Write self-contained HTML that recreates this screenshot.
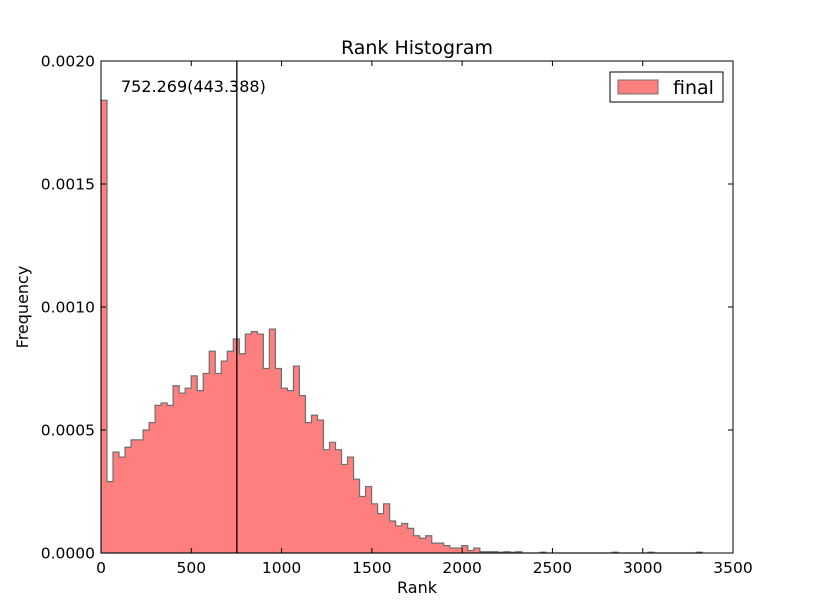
<!DOCTYPE html>
<html><head><meta charset="utf-8"><style>
body{margin:0;background:#fff;}
svg{display:block;font-family:"DejaVu Sans","Liberation Sans",sans-serif;}
</style></head><body>
<svg id="chart" width="815" height="615">
<rect width="815" height="615" fill="#fff"/>
<g id="bars"></g>
<g id="axes"></g>
</svg>
<script>
const binWidth = 33.3;
const freqs = [0.00184,0.00029,0.00041,0.00039,0.00043,0.00046,0.00046,0.0005,0.00053,0.0006,0.00061,0.0006,0.00068,0.00065,0.00067,0.00072,0.00066,0.00073,0.00082,0.00073,0.00078,0.00082,0.00087,0.00081,0.00089,0.0009,0.00089,0.00075,0.00091,0.00075,0.00067,0.00066,0.00076,0.00064,0.00053,0.00056,0.00054,0.00042,0.00045,0.00042,0.00036,0.00039,0.0003,0.00023,0.00027,0.0002,0.00016,0.0002,0.00013,0.00011,0.00012,0.0001,0.00007,0.00006,0.00007,0.00004,0.00004,0.00003,0.00002,0.00002,0.00003,0.00001,0.00002,0.000005,0.000005,0.000005,0.000003,0.000005,0.000003,0.000005,0,0,0,0.000003,0,0,0,0,0,0,0,0,0,0,0,0.000003,0,0,0,0,0,0.000003,0,0,0,0,0,0,0,0.000003];
const xTicks = [0,500,1000,1500,2000,2500,3000,3500];
const yTicks = [0,0.0005,0.001,0.0015,0.002];
const yTickLabels = ["0.0000","0.0005","0.0010","0.0015","0.0020"];
const meanValue = 752.269;
const meanLabel = "752.269(443.388)";

const L=101,R=733,T=61,B=553;
const xs=v=>L+(v/3500)*(R-L);
const ys=v=>B-(v/0.002)*(B-T);
const NS="http://www.w3.org/2000/svg";
function mk(tag,attrs,parent,text){const e=document.createElementNS(NS,tag);for(const k in attrs)e.setAttribute(k,attrs[k]);if(text!==undefined)e.textContent=text;parent.appendChild(e);return e;}

const bars=document.getElementById('bars');
let d="M"+xs(0)+","+ys(0);
freqs.forEach((f,i)=>{
  const x0=xs(i*binWidth),x1=xs((i+1)*binWidth);
  d+=" L"+x0+","+ys(f)+" L"+x1+","+ys(f);
});
d+=" L"+xs(freqs.length*binWidth)+","+ys(0)+" Z";
const p=mk('path',{d:d,fill:'#ff7f7f',stroke:'#6e6e6e','stroke-width':1.2},bars);


freqs.forEach((f,i)=>{
  const r=mk('rect',{x:xs(i*binWidth),y:ys(f),width:xs(binWidth)-xs(0),height:ys(0)-ys(f),fill:'none',stroke:'none'},bars);
  
  
});

const ax=document.getElementById('axes');
const ml=mk('line',{x1:xs(meanValue),x2:xs(meanValue),y1:T,y2:B,stroke:'#000','stroke-width':1.3},ax);


const mt=mk('text',{x:121,y:92,'font-size':16},ax,meanLabel);



mk('rect',{x:L,y:T,width:R-L,height:B-T,fill:'none',stroke:'#000','stroke-width':1},ax);
xTicks.forEach(v=>{
  const x=xs(v);
  mk('line',{x1:x,x2:x,y1:B,y2:B-5,stroke:'#000'},ax);
  mk('line',{x1:x,x2:x,y1:T,y2:T+5,stroke:'#000'},ax);
  const t=mk('text',{x:x,y:B+20,'font-size':15.5,'text-anchor':'middle'},ax,String(v));
  
  
});
yTicks.forEach((v,i)=>{
  const y=ys(v);
  mk('line',{x1:L,x2:L+5,y1:y,y2:y,stroke:'#000'},ax);
  mk('line',{x1:R,x2:R-5,y1:y,y2:y,stroke:'#000'},ax);
  const t=mk('text',{x:L-6,y:y+5.5,'font-size':15.5,'text-anchor':'end'},ax,yTickLabels[i]);
  
  
});
const tt=mk('text',{x:(L+R)/2,y:54,'font-size':19,'text-anchor':'middle'},ax,'Rank Histogram');


const xt=mk('text',{x:(L+R)/2,y:593,'font-size':16,'text-anchor':'middle'},ax,'Rank');


const yt=mk('text',{x:28,y:(T+B)/2,'font-size':16,'text-anchor':'middle',transform:'rotate(-90 28 '+((T+B)/2)+')'},ax,'Frequency');



const lg=mk('g',{},ax);


mk('rect',{x:610,y:72,width:113,height:30,fill:'#fff',stroke:'#000'},lg);
mk('rect',{x:618,y:80,width:40,height:14,fill:'#ff7f7f',stroke:'#6e6e6e'},lg);
const lt=mk('text',{x:673,y:94,'font-size':19},lg,'final');


</script>
</body></html>
